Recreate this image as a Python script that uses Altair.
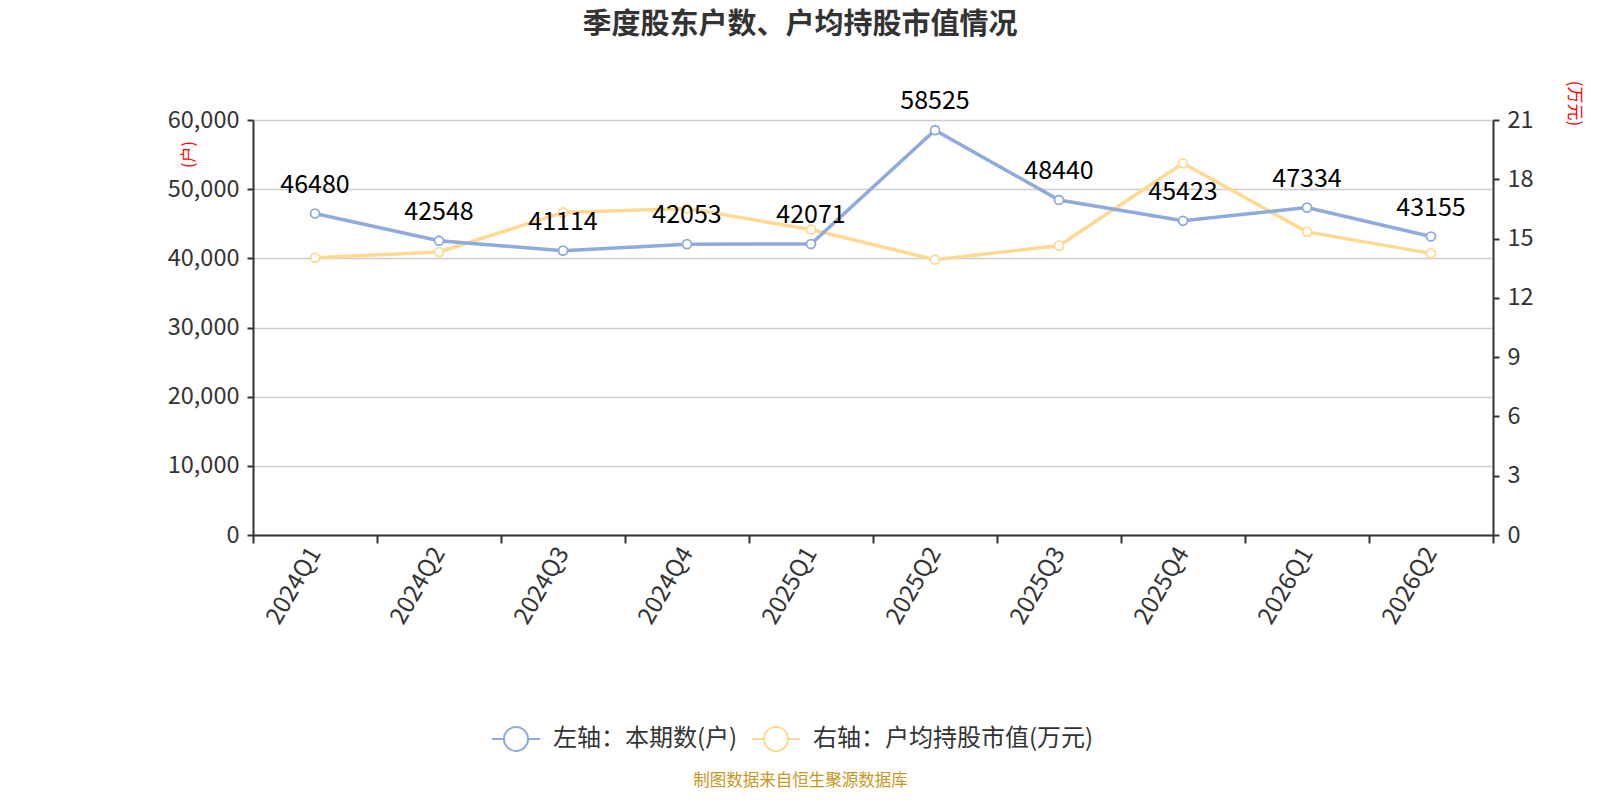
import altair as alt
import pandas as pd

quarters = ["2024Q1", "2024Q2", "2024Q3", "2024Q4", "2025Q1",
            "2025Q2", "2025Q3", "2025Q4", "2026Q1", "2026Q2"]
holders = [46480, 42548, 41114, 42053, 42071, 58525, 48440, 45423, 47334, 43155]
avg_value = [14.03, 14.32, 16.32, 16.52, 15.46, 13.93, 14.64, 18.81, 15.34, 14.25]
series_names = ["左轴：本期数(户)", "右轴：户均持股市值(万元)"]
colors = ["#8FAADC", "#FFD991"]
left_ticks = [0, 10000, 20000, 30000, 40000, 50000, 60000]
right_ticks = [0, 3, 6, 9, 12, 15, 18, 21]
title_text = "季度股东户数、户均持股市值情况"
footer_text = "制图数据来自恒生聚源数据库"

df_left = pd.DataFrame({"q": quarters, "v": holders, "s": series_names[0]})
df_right = pd.DataFrame({"q": quarters, "v": avg_value, "s": series_names[1]})

FONT = "Noto Sans CJK SC"
W, H = 1240, 415
PAD_L, PAD_T = 245, 112
AX = "#333333"
CX = 800 - 8 - PAD_L  # page centre relative to the plot's left edge

color_scale = alt.Scale(domain=series_names, range=colors)

x_enc = alt.X(
    "q:N", sort=quarters, bandPosition=0.5,
    scale=alt.Scale(type="band", paddingInner=0, paddingOuter=0),
    axis=alt.Axis(title=footer_text, titleColor="#C8961E", titleFontSize=16.5,
                  titleFontWeight="normal", titleFont=FONT, titleX=CX, titleY=245,
                  titleAlign="center", titleBaseline="middle", titleAngle=0,
                  labelAngle=-60, labelAlign="right", labelBaseline="middle",
                  labelFontSize=24, labelColor=AX, labelPadding=6, labelFont=FONT,
                  tickBand="extent", tickSize=8, tickColor=AX, tickWidth=2,
                  domainColor=AX, domainWidth=2, grid=False),
)

legend_def = alt.Legend(
    title=None, orient="none", legendX=238, legendY=594, direction="horizontal",
    symbolType="M-1,0L-0.5,0M0.5,0L1,0M0.5,0A0.5,0.5,0,1,1,-0.5,0A0.5,0.5,0,1,1,0.5,0",
    symbolSize=2304, symbolStrokeWidth=2, symbolFillColor="white",
    labelFontSize=24, labelColor=AX, labelFont=FONT, labelOffset=12, columnPadding=10,
    labelLimit=600,
)

y_left = alt.Y(
    "v:Q", scale=alt.Scale(domain=[0, 60000], nice=False),
    axis=alt.Axis(values=left_ticks, format=",d", title="(户)", titleColor="red",
                  titleFontSize=16, titleFontWeight="normal", titleFont=FONT,
                  titleAngle=-90, titleX=-65, titleY=34, titleAlign="center",
                  titleBaseline="middle", labelFontSize=23.5, labelColor=AX, labelFont=FONT,
                  labelPadding=8, tickSize=6, tickColor=AX, tickWidth=2,
                  domainColor=AX, domainWidth=2, grid=True, gridColor="#cccccc",
                  gridWidth=1.5, orient="left"),
)
y_right = alt.Y(
    "v:Q", scale=alt.Scale(domain=[0, 21], nice=False),
    axis=alt.Axis(values=right_ticks, title="(万元)", titleColor="red",
                  titleFontSize=17, titleFontWeight="normal", titleFont=FONT,
                  titleAngle=90, titleX=80, titleY=-17, titleAlign="center",
                  titleBaseline="middle", labelFontSize=23.5, labelColor=AX, labelFont=FONT,
                  labelPadding=8, tickSize=6, tickColor=AX, tickWidth=2,
                  domainColor=AX, domainWidth=2, grid=False, orient="right"),
)

def series_layers(df, y_enc, labels):
    base = alt.Chart(df)
    line = base.mark_line(strokeWidth=3.5).encode(
        x=x_enc, y=y_enc, color=alt.Color("s:N", scale=color_scale, legend=legend_def))
    pts = base.mark_point(shape="circle", filled=False, fill="white", opacity=1,
                          strokeWidth=1.8, size=80).encode(
        x=x_enc, y=y_enc, stroke=alt.Stroke("s:N", scale=color_scale, legend=None))
    layers = [line, pts]
    if labels:
        txt = base.mark_text(fontSize=25, color="black", dy=-29, font=FONT,
                             baseline="middle").encode(
            x=x_enc, y=y_enc, text=alt.Text("v:Q", format="d"))
        layers.append(txt)
    return alt.layer(*layers)

right_layer = series_layers(df_right, y_right, False)
left_layer = series_layers(df_left, y_left, True)

chart = alt.layer(right_layer, left_layer).resolve_scale(
    y="independent"
).properties(
    width=W, height=H,
    title=alt.TitleParams(title_text, fontSize=29, fontWeight="bold", color=AX,
                          font=FONT, anchor="middle", frame="group", baseline="middle",
                          dx=CX - W / 2, offset=26),
    padding={"left": PAD_L, "top": PAD_T, "right": 1584 - PAD_L - W, "bottom": 784 - PAD_T - H},
    autosize=alt.AutoSizeParams(type="none"),
).configure_view(stroke=None).configure(background="white")

chart.save("out.html", embed_options={"renderer": "svg", "actions": False})
